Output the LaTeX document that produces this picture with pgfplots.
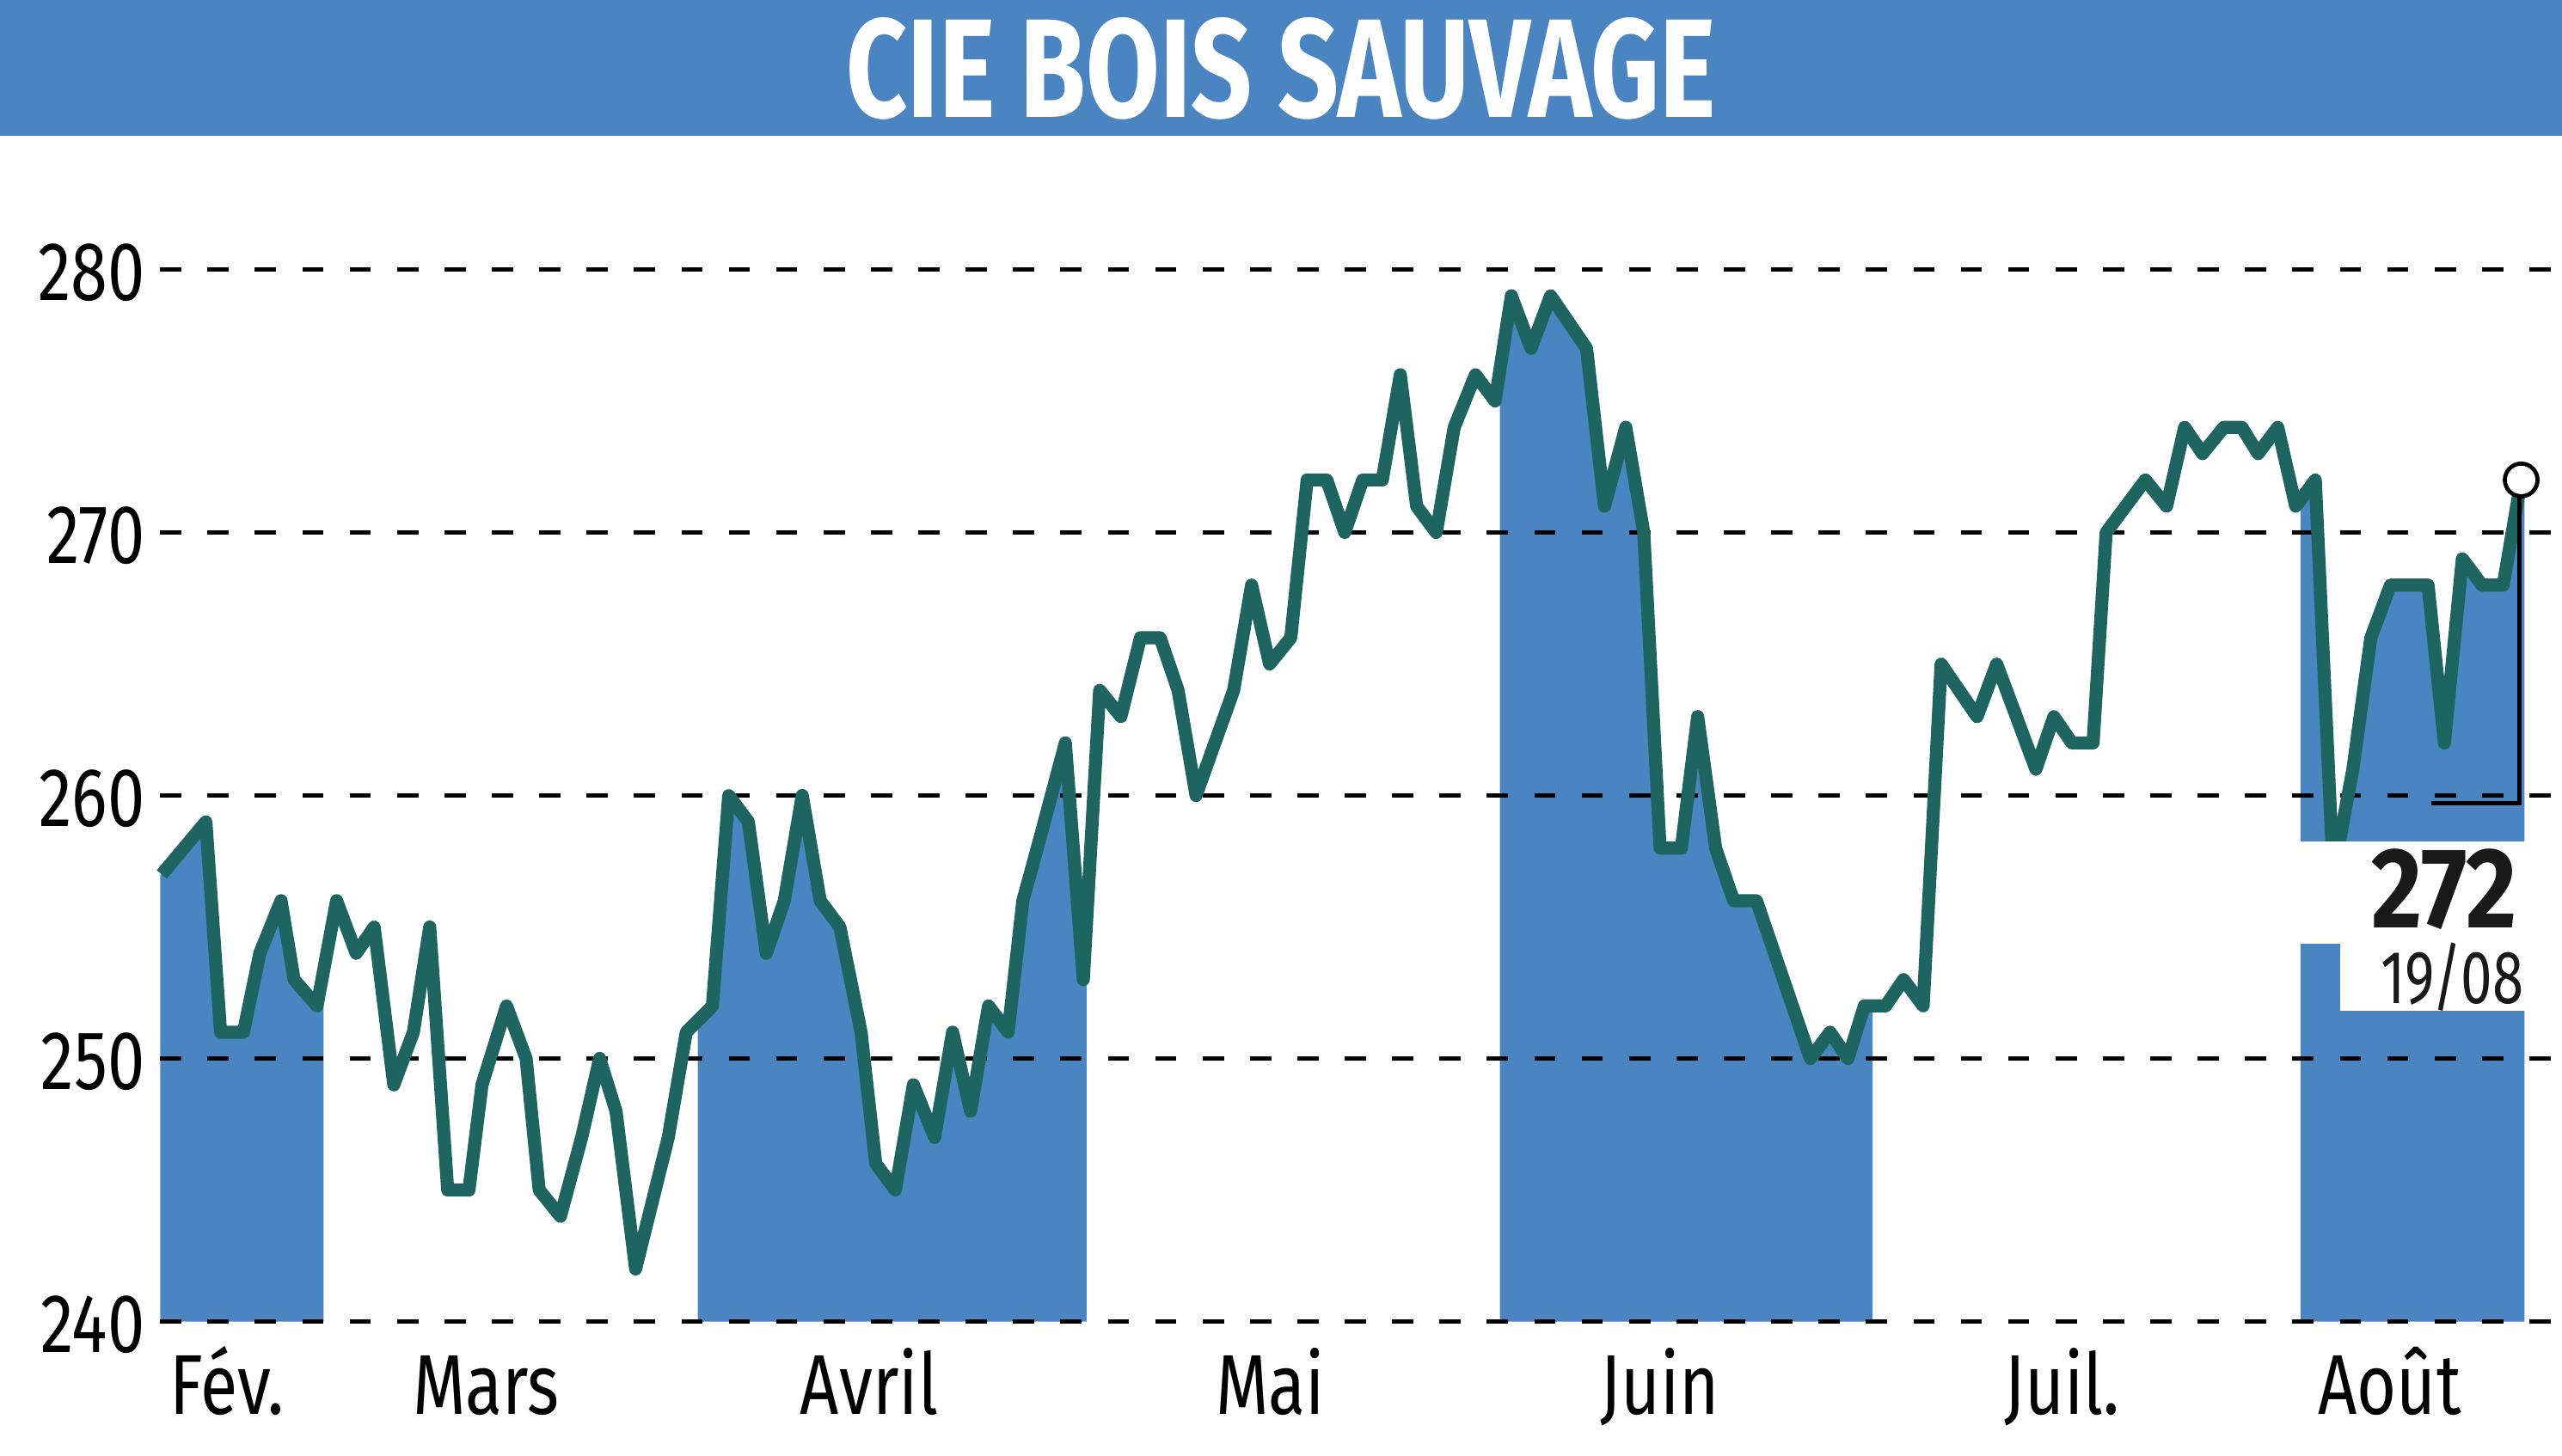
\documentclass[border=0pt]{standalone}
\usepackage{fontspec}
\setmainfont[FakeStretch=0.8]{Fira Sans}
\newfontfamily\titlefont[FakeStretch=0.76]{Fira Sans}
\newfontfamily\lblfont[FakeStretch=0.75]{Fira Sans}
\newfontfamily\lastfont[FakeStretch=0.86]{Fira Sans}
\usepackage{pgfplots}
\usepackage{pgfplotstable}
\pgfplotsset{compat=1.18}

\definecolor{bandblue}{RGB}{74,133,193}
\definecolor{lineteal}{RGB}{30,100,97}

% x = horizontal position, y = share price
\pgfplotstableread{
x y
99 257
126 259
135 251
149 251
159 254
172 256
180 253
194 252
206 256
218 254
229 255
241 249
253 251
263 255
274 245
287 245
295 249
310 252
322 250
330 245
343 244
356 247
367 250
377 248
389 242
397 244
409 247
420 251
436 252
446 260
458 259
469 254
480 256
491 260
502 256
514 255
527 251
536 246
548 245
559 249
572 247
583 251
594 248
605 252
617 251
626 256
637 258.5
652 262
663 253
673 264
686 263
698 266
710 266
721 264
732 260
755 264
766 268
777 265
790 266
800 272
812 272
823 270
834 272
846 272
857 276
867 271
879 270
890 274
903 276
915 275
925 279
937 277
949 279
971 277
982 271
995 274
1006 270
1016 258
1029 258
1039 263
1050 258
1061 256
1075 256
1108 250
1120 251
1131 250
1141 252
1154 252
1165 253
1177 252
1188 265
1210 263
1222 265
1246 261
1257 263
1268 262
1281 262
1289 270
1313 272
1326 271
1337 274
1348 273
1361 274
1372 274
1382 273
1394 274
1405 271
1417 272
1428 257
1440 261
1451 266
1463 268
1475 268
1486 268
1496 262
1507 269
1519 268
1532 268
1543 272
}\prices

% shaded months (Fev, Avril, Juin, Aout)
\pgfplotstableread{
x y
98 240
98 257
99 257
126 259
135 251
149 251
159 254
172 256
180 253
194 252
198 252.5
198 240
}\febfill
\pgfplotstableread{
x y
427 240
427 251.3
436 252
446 260
458 259
469 254
480 256
491 260
502 256
514 255
527 251
536 246
548 245
559 249
572 247
583 251
594 248
605 252
617 251
626 256
637 258.5
652 262
663 253
665 254
665 240
}\aprfill
\pgfplotstableread{
x y
918 240
918 276
925 279
937 277
949 279
971 277
982 271
995 274
1006 270
1016 258
1029 258
1039 263
1050 258
1061 256
1075 256
1108 250
1120 251
1131 250
1141 252
1146 252
1146 240
}\junfill
\pgfplotstableread{
x y
1408 240
1408 271.3
1417 272
1428 257
1440 261
1451 266
1463 268
1475 268
1486 268
1496 262
1507 269
1519 268
1532 268
1543 272
1545 272
1545 240
}\augfill

\begin{document}
\begin{tikzpicture}
% title band
\fill[bandblue] (0pt,404pt) rectangle (784pt,445.5pt);
\node[text=white, inner sep=0pt, font=\titlefont\bfseries\fontsize{43}{43}\selectfont]
  at (392pt,424.5pt) {CIE BOIS SAUVAGE};

\begin{axis}[
    at={(49pt,41pt)}, anchor=south west,
    scale only axis,
    width=735pt, height=322pt,
    xmin=98, xmax=1568,
    ymin=240, ymax=280,
    set layers,
    clip=false,
    axis line style={draw=none},
    major tick length=0pt,
    ytick={240,250,260,270,280},
    xtick={139,297.5,532,777.5,1016,1262,1462.5},
    xticklabels={Fév.,Mars,Avril,Mai,Juin,Juil.,Août},
    ymajorgrids,
    grid style={black, line width=1.5pt, dash pattern=on 6.5pt off 8pt},
    /pgf/number format/assume math mode=true,
    yticklabel style={font=\fontsize{25.5}{25.5}\selectfont, anchor=east, inner sep=0pt, xshift=-4.5pt, yshift=-1pt},
    xticklabel style={font=\fontsize{26}{26}\selectfont, anchor=base, inner sep=0pt, yshift=-28.5pt},
]

\addplot[fill=bandblue, draw=none, on layer=axis background] table[x=x, y=y] {\febfill};
\addplot[fill=bandblue, draw=none, on layer=axis background] table[x=x, y=y] {\aprfill};
\addplot[fill=bandblue, draw=none, on layer=axis background] table[x=x, y=y] {\junfill};
\addplot[fill=bandblue, draw=none, on layer=axis background] table[x=x, y=y] {\augfill};

\addplot[draw=lineteal, line width=4pt, line join=round] table[x=x, y=y] {\prices};

% label box for the last price
\fill[white] (axis cs:1407,258.26) rectangle (axis cs:1547,254.35);
\fill[white] (axis cs:1432,254.4) rectangle (axis cs:1547,251.8);
\node[anchor=base east, inner sep=0pt, text=black!90, font=\lastfont\bfseries\fontsize{35}{35}\selectfont]
  at (axis cs:1541,254.97) {272};
\node[anchor=base east, inner sep=0pt, text=black!90, font=\lblfont\fontsize{23}{23}\selectfont]
  at (axis cs:1545,252.1) {19/08};

\addplot[black, line width=1.25pt] coordinates {(1542,272) (1542,259.7) (1488,259.7)};
\addplot[only marks, mark=*, mark size=5pt, mark options={fill=white, draw=black, line width=1.25pt}]
  coordinates {(1543,272)};

\end{axis}
\pgfresetboundingbox
\path[use as bounding box] (0pt,0pt) rectangle (784pt,445.5pt);
\end{tikzpicture}
\end{document}
